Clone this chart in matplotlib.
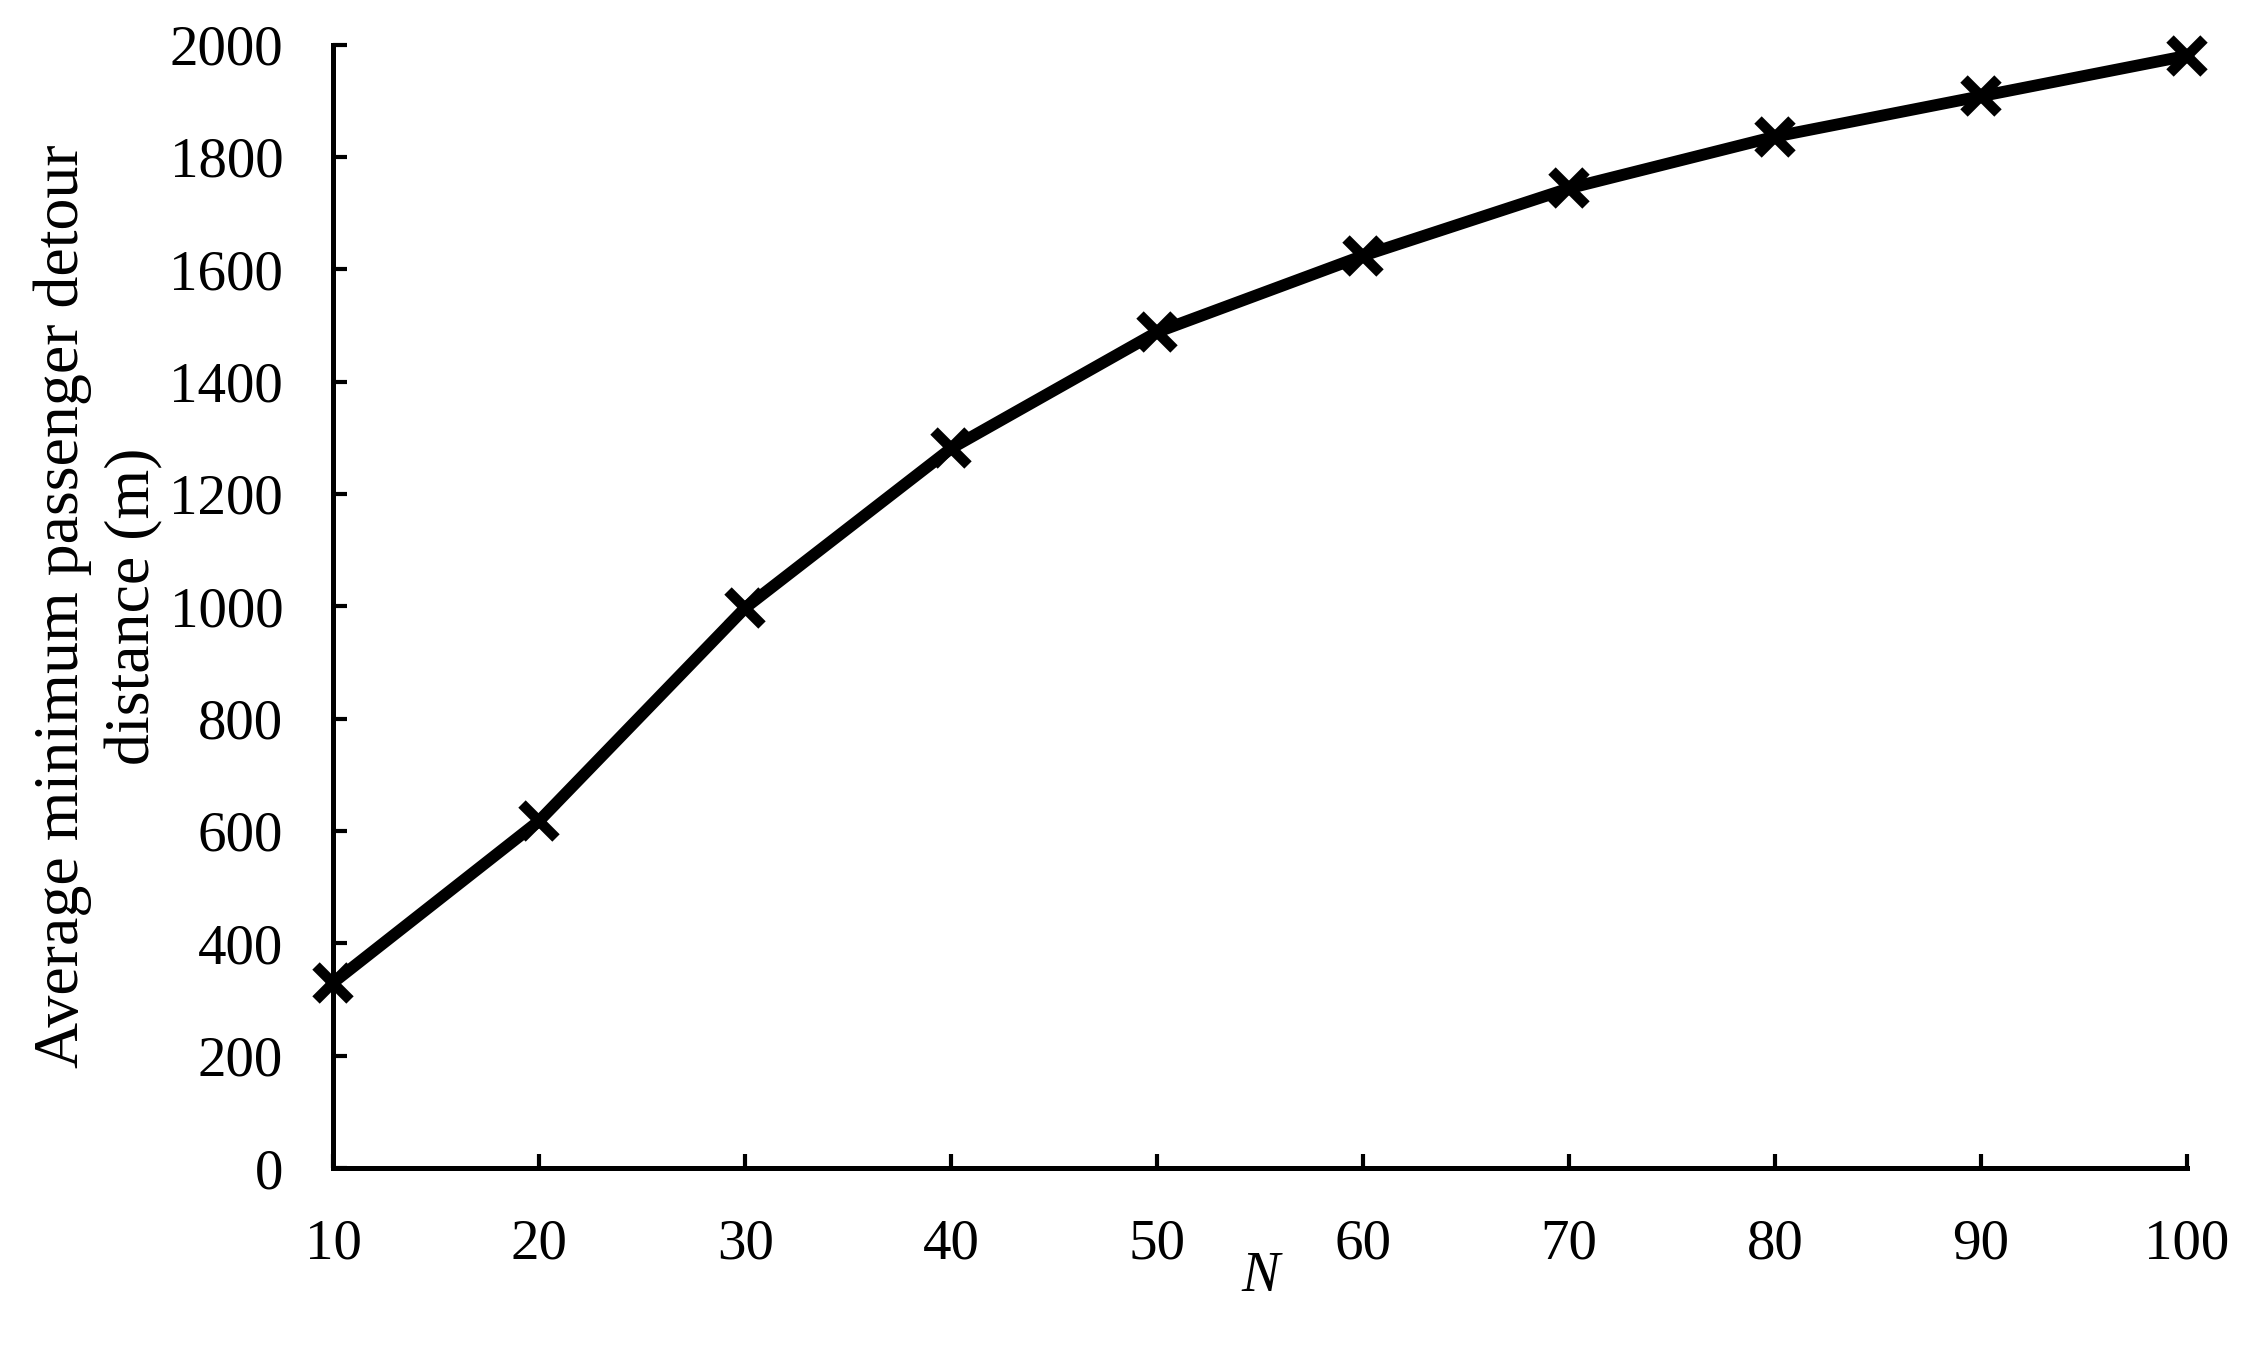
import matplotlib
matplotlib.use("Agg")
import matplotlib.pyplot as plt

# data
n_values = [10, 20, 30, 40, 50, 60, 70, 80, 90, 100]
detour = [330, 618, 997, 1281, 1488, 1624, 1744, 1836, 1908, 1980]
y_ticks = [0, 200, 400, 600, 800, 1000, 1200, 1400, 1600, 1800, 2000]

plt.rcParams['font.family'] = ['Liberation Serif', 'DejaVu Serif']

fig = plt.figure(figsize=(22.51, 13.61), dpi=100)
ax = fig.add_axes([0.148, 0.1418, 0.8236, 0.8255])

ax.plot(n_values, detour, color='black', lw=8.5, marker='x',
        ms=24, mew=7.5, clip_on=False, solid_capstyle='butt')

ax.set_xlim(10, 100)
ax.set_ylim(0, 2000)
ax.set_xticks(n_values)
ax.set_yticks(y_ticks)

for side in ['top', 'right']:
    ax.spines[side].set_visible(False)
for side in ['left', 'bottom']:
    ax.spines[side].set_linewidth(3.6)

ax.tick_params(axis='both', direction='in', length=10, width=3,
               labelsize=41, color='black')
ax.tick_params(axis='x', pad=36)
ax.tick_params(axis='y', pad=36)

ax.set_xlabel('N', fontsize=41, fontstyle='italic', labelpad=-14)
ax.set_ylabel('Average minimum passenger detour\ndistance (m)',
              fontsize=46, linespacing=1.3, labelpad=4)

fig.savefig('out.png', dpi=100, facecolor='white')
